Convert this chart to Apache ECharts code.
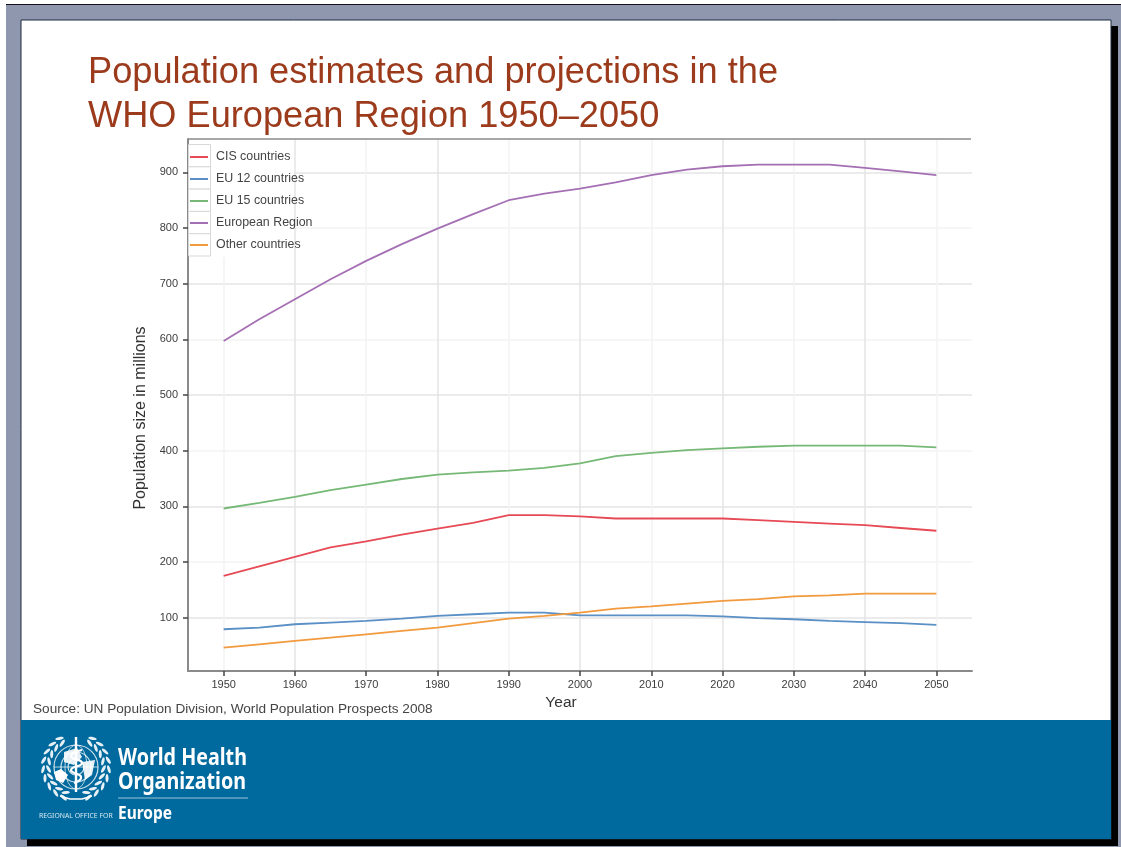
<!DOCTYPE html>
<html>
<head>
<meta charset="utf-8">
<style>
html,body{margin:0;padding:0;background:#fff;overflow:hidden}
#c{width:1121px;height:847px;filter:blur(.4px)}
</style>
<script src="https://cdn.jsdelivr.net/npm/echarts@6/dist/echarts.min.js"></script>
</head>
<body>
<div id="c"></div>
<script>
const years = [1950,1955,1960,1965,1970,1975,1980,1985,1990,1995,2000,2005,2010,2015,2020,2025,2030,2035,2040,2045,2050];
const cis      = [175,192,209,226,237,249,260,270,284,284,282,278,278,278,278,275,272,269,266,261,256];
const eu12     = [79,82,88,91,94,98,103,106,109,109,104,104,104,104,102,99,97,94,92,90,87];
const eu15     = [296,306,317,329,339,349,357,361,364,369,377,390,396,401,404,407,409,409,409,409,406];
const europe   = [597,636,672,708,741,771,799,825,850,862,871,882,895,905,911,914,914,914,908,902,895];
const other    = [46,52,58,64,70,76,82,90,98,103,109,116,120,125,130,133,138,140,143,143,143];
const seriesNames = ['CIS countries','EU 12 countries','EU 15 countries','European Region','Other countries'];
const seriesValues = [cis,eu12,eu15,europe,other];
const seriesColors = ['#e64a55','#5a90c6','#76b976','#a56fb4','#f29a3e'];
const xTickLabels = [1950,1960,1970,1980,1990,2000,2010,2020,2030,2040,2050];
const yTickLabels = [100,200,300,400,500,600,700,800,900];

const W='#ffffff';
const gfx=[];
// slide frame
gfx.push({type:'rect',z:-5,shape:{x:6,y:4,width:1115,height:843},style:{fill:'#8e97ae'}});
gfx.push({type:'rect',z:-5,shape:{x:6,y:4,width:1115,height:1},style:{fill:'#10131c'}});
gfx.push({type:'rect',z:-4,shape:{x:27,y:26,width:1091,height:820},style:{fill:'#000'}});
gfx.push({type:'rect',z:-3,shape:{x:21,y:20,width:1090,height:819},style:{fill:W,stroke:'#1f2a3c',lineWidth:1}});
gfx.push({type:'rect',z:-2,shape:{x:21,y:720,width:1090,height:119},style:{fill:'#006a9e'}});
// top plot border
gfx.push({type:'line',z:3,shape:{x1:188,y1:139,x2:971,y2:139},style:{stroke:'#8a8a8a',lineWidth:1.5}});
// legend background and keys
gfx.push({type:'rect',z:1,shape:{x:189,y:141,width:105,height:116},style:{fill:W}});
seriesNames.forEach((n,i)=>gfx.push({type:'rect',z:1,shape:{x:188.5,y:144.5+22.3*i,width:22,height:22.3},style:{fill:W,stroke:'#d8d8d8',lineWidth:1}}));
// axis names and source
gfx.push({type:'text',z:5,x:141,y:418,rotation:Math.PI/2,style:{text:'Population size in millions',fill:'#333',font:'16px "Liberation Sans"',align:'center',verticalAlign:'middle'}});
gfx.push({type:'text',z:5,x:561,y:703,style:{text:'Year',fill:'#333',font:'15.5px "Liberation Sans"',align:'center',verticalAlign:'middle'}});
gfx.push({type:'text',z:5,x:33,y:703,scaleX:1.09,style:{text:'Source: UN Population Division, World Population Prospects 2008',fill:'#444',font:'12.5px "Liberation Sans"'}});
// logo
const cx=76,cy=767;
[22,15,8].forEach(r=>gfx.push({type:'circle',z:5,shape:{cx,cy,r},style:{fill:'none',stroke:'rgba(255,255,255,.8)',lineWidth:1.2}}));
gfx.push({type:'line',z:5,shape:{x1:cx-22,y1:cy,x2:cx+22,y2:cy},style:{stroke:'rgba(255,255,255,.7)',lineWidth:1}});
gfx.push({type:'ellipse',z:5,shape:{cx,cy,rx:11,ry:22},style:{fill:'none',stroke:'rgba(255,255,255,.7)',lineWidth:1}});
gfx.push({type:'line',z:6,shape:{x1:cx,y1:737,x2:cx,y2:792},style:{stroke:W,lineWidth:2.4}});
gfx.push({type:'polyline',z:6,shape:{points:[[cx+6,750],[cx-5,756],[cx+6,763],[cx-5,770],[cx+5,777],[cx-2,783]],smooth:.6},style:{fill:'none',stroke:W,lineWidth:2.2}});
gfx.push({type:'polygon',z:6,shape:{points:[[cx-22,772],[cx-15,769],[cx-8,775],[cx-13,783],[cx-20,780]]},style:{fill:W}});
gfx.push({type:'polygon',z:6,shape:{points:[[cx-12,752],[cx+1,748],[cx+6,757],[cx-2,765],[cx-12,762]]},style:{fill:'rgba(255,255,255,.9)'}});
gfx.push({type:'polygon',z:6,shape:{points:[[cx+6,762],[cx+19,760],[cx+16,775],[cx+9,780]]},style:{fill:'rgba(255,255,255,.9)'}});
[-1,1].forEach(side=>{
  [[27.5,0.45],[33,-0.35]].forEach(([R,tilt])=>{
    for(let k=0;k<9;k++){
      const a=(-60+k*16)*Math.PI/180;
      gfx.push({type:'ellipse',z:5,x:cx+side*R*Math.cos(a),y:cy+R*Math.sin(a),rotation:side*(-a-tilt),
        shape:{cx:0,cy:0,rx:1.5,ry:4.2},style:{fill:'rgba(255,255,255,.9)'}});
    }
  });
});
gfx.push({type:'polyline',z:6,shape:{points:[[cx-16,796],[cx-6,799],[cx+6,799],[cx+16,796]]},style:{fill:'none',stroke:W,lineWidth:1.5}});
gfx.push({type:'text',z:5,x:118,y:746,scaleX:.82,style:{text:'World Health',fill:W,font:'bold 24px "Noto Sans"'}});
gfx.push({type:'text',z:5,x:118,y:770,scaleX:.82,style:{text:'Organization',fill:W,font:'bold 24px "Noto Sans"'}});
gfx.push({type:'line',z:5,shape:{x1:118,y1:798,x2:248,y2:798},style:{stroke:'rgba(255,255,255,.6)',lineWidth:1}});
gfx.push({type:'text',z:5,x:39,y:812,scaleX:.98,style:{text:'REGIONAL OFFICE FOR',fill:'rgba(255,255,255,.85)',font:'7px "Noto Sans"'}});
gfx.push({type:'text',z:5,x:118,y:805,scaleX:.86,style:{text:'Europe',fill:W,font:'bold 18px "Noto Sans"'}});

const major='#e4e4e4', minor='#f3f3f3';
const chart=echarts.init(document.getElementById('c'),null,{renderer:'canvas'});
chart.setOption({
  animation:false,
  title:{text:'Population estimates and projections in the\nWHO European Region 1950\u20132050',left:83,top:46,
    textStyle:{color:'#9c3a1c',fontFamily:'"Liberation Sans"',fontWeight:'normal',fontSize:36.2,lineHeight:44}},
  legend:{orient:'vertical',left:185,top:146,icon:'rect',itemWidth:18,itemHeight:2,itemGap:10,selectedMode:false,z:4,
    textStyle:{color:'#444',fontFamily:'"Liberation Sans"',fontSize:12.4,padding:[0,0,0,3]},data:seriesNames},
  grid:{left:188,right:149,top:139,bottom:176},
  xAxis:{type:'value',min:1945,max:2055,interval:5,
    axisLine:{onZero:false,lineStyle:{color:'#8a8a8a',width:2}},
    axisTick:{customValues:xTickLabels,length:5,lineStyle:{color:'#444',width:1.5}},
    axisLabel:{customValues:xTickLabels,color:'#3c3c3c',fontFamily:'"Liberation Sans"',fontSize:11,margin:8,formatter:v=>String(v)},
    splitLine:{show:true,lineStyle:{color:[minor,major],width:1.5}}},
  yAxis:{type:'value',min:4,max:960,interval:50,
    axisLine:{show:true,onZero:false,lineStyle:{color:'#8a8a8a',width:2}},
    axisTick:{customValues:yTickLabels,length:5,lineStyle:{color:'#444',width:1.5}},
    axisLabel:{customValues:yTickLabels,color:'#3c3c3c',fontFamily:'"Liberation Sans"',fontSize:11,margin:10,formatter:v=>String(v)},
    splitLine:{show:true,lineStyle:{color:[major,minor],width:1.5}}},
  series:seriesNames.map((n,i)=>({name:n,type:'line',symbol:'none',smooth:false,z:3,
    itemStyle:{color:seriesColors[i]},
    lineStyle:{color:seriesColors[i],width:1.8},
    data:years.map((y,j)=>[y,seriesValues[i][j]])})),
  graphic:gfx
});
</script>
</body>
</html>
